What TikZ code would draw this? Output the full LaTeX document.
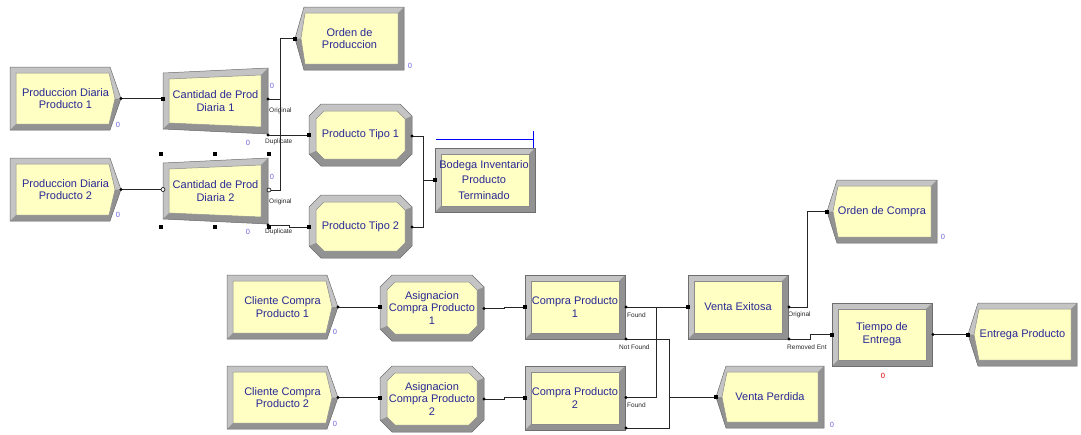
\documentclass[tikz,border=0pt]{standalone}
\usepackage{fontspec}
\setmainfont{Liberation Sans}
\definecolor{modfill}{RGB}{255,255,196}
\definecolor{bevL}{RGB}{196,196,196}
\definecolor{bevD}{RGB}{146,146,146}
\definecolor{edgec}{RGB}{110,110,110}
\definecolor{txtc}{RGB}{40,40,150}
\definecolor{cntc}{RGB}{110,100,220}
\tikzset{
 modtext/.style={font=\fontsize{11}{12.7}\selectfont, text=txtc, align=center, inner sep=0pt},
 conn/.style={draw=black!85, line width=0.9pt},
 portlbl/.style={font=\fontsize{6.5}{7}\selectfont, text=black!85, inner sep=0pt, anchor=west},
 cntlbl/.style={font=\fontsize{7.5}{8}\selectfont, text=cntc, inner sep=0pt},
 innerbox/.style={fill=modfill, draw=edgec!80, line width=0.5pt},
 outerbox/.style={draw=edgec, line width=0.5pt},
}
% rectangle module: name x1 y1 x2 y2 text
\newcommand\arRect[6]{%
 \fill[bevL] (#2,#3) rectangle (#4,#5);
 \fill[bevD] (#4,#3) -- (#4,#5) -- (#2,#5) -- (#2+6,#5-6) -- (#4-6,#5-6) -- (#4-6,#3+6) -- cycle;
 \draw[outerbox] (#2,#3) rectangle (#4,#5);
 \draw[innerbox] (#2+6,#3+6) rectangle (#4-6,#5-6);
 \node[modtext] (#1) at ({(#2+#4)/2},{(#3+#5)/2}) {#6};}
% octagon module: name x1 y1 x2 y2 text
\newcommand\arOct[6]{%
 \fill[bevL] (#2+12,#3) -- (#4-12,#3) -- (#4,#3+12) -- (#4,#5-12) -- (#4-12,#5) -- (#2+12,#5) -- (#2,#5-12) -- (#2,#3+12) -- cycle;
 \fill[bevD] (#4,#3+12) -- (#4,#5-12) -- (#4-12,#5) -- (#2+12,#5) -- (#2,#5-12) -- (#2+7,#5-15) -- (#2+15,#5-7) -- (#4-15,#5-7) -- (#4-7,#5-15) -- (#4-7,#3+15) -- cycle;
 \draw[outerbox] (#2+12,#3) -- (#4-12,#3) -- (#4,#3+12) -- (#4,#5-12) -- (#4-12,#5) -- (#2+12,#5) -- (#2,#5-12) -- (#2,#3+12) -- cycle;
 \draw[innerbox] (#2+15,#3+7) -- (#4-15,#3+7) -- (#4-7,#3+15) -- (#4-7,#5-15) -- (#4-15,#5-7) -- (#2+15,#5-7) -- (#2+7,#5-15) -- (#2+7,#3+15) -- cycle;
 \node[modtext] (#1) at ({(#2+#4)/2},{(#3+#5)/2}) {#6};}
% create module: name x1 y1 xf xp y2 text
\newcommand\arCreate[7]{%
 \fill[bevL] (#2,#3) -- (#4,#3) -- (#5,{(#3+#6)/2}) -- (#4,#6) -- (#2,#6) -- cycle;
 \fill[bevD] (#5,{(#3+#6)/2}) -- (#4,#6) -- (#2,#6) -- (#2+6,#6-6) -- (#4-1,#6-6) -- (#5-6,{(#3+#6)/2}) -- cycle;
 \draw[outerbox] (#2,#3) -- (#4,#3) -- (#5,{(#3+#6)/2}) -- (#4,#6) -- (#2,#6) -- cycle;
 \draw[innerbox] (#2+6,#3+6) -- (#4-1,#3+6) -- (#5-6,{(#3+#6)/2}) -- (#4-1,#6-6) -- (#2+6,#6-6) -- cycle;
 \node[modtext] (#1) at ({(#2+#5)/2},{(#3+#6)/2}) {#7};}
% dispose module: name xp xf y1 x2 y2 text
\newcommand\arDisp[7]{%
 \fill[bevL] (#2,{(#4+#6)/2}) -- (#3,#4) -- (#5,#4) -- (#5,#6) -- (#3,#6) -- cycle;
 \fill[bevD] (#5,#4) -- (#5,#6) -- (#3,#6) -- (#2,{(#4+#6)/2}) -- (#2+6,{(#4+#6)/2}) -- (#3+1,#6-6) -- (#5-6,#6-6) -- (#5-6,#4+6) -- cycle;
 \draw[outerbox] (#2,{(#4+#6)/2}) -- (#3,#4) -- (#5,#4) -- (#5,#6) -- (#3,#6) -- cycle;
 \draw[innerbox] (#2+6,{(#4+#6)/2}) -- (#3+1,#4+6) -- (#5-6,#4+6) -- (#5-6,#6-6) -- (#3+1,#6-6) -- cycle;
 \node[modtext] (#1) at ({(#2+#5)/2},{(#4+#6)/2}) {#7};}
% separate module: name x1 y1 x2 y2 text
\newcommand\arSep[6]{%
 \fill[bevL] (#2,#3+5) -- (#4,#3) -- (#4,#5) -- (#2,#5-5) -- cycle;
 \fill[bevD] (#4,#3) -- (#4,#5) -- (#2,#5-5) -- (#2+6,#5-11) -- (#4-7,#5-7) -- (#4-7,#3+7) -- cycle;
 \draw[outerbox] (#2,#3+5) -- (#4,#3) -- (#4,#5) -- (#2,#5-5) -- cycle;
 \draw[innerbox] (#2+6,#3+11) -- (#4-7,#3+7) -- (#4-7,#5-7) -- (#2+6,#5-11) -- cycle;
 \node[modtext] (#1) at ({(#2+#4)/2},{(#3+#5)/2}) {#6};}
\begin{document}
\begin{tikzpicture}[x=1pt,y=-1pt]
\useasboundingbox (0,0) rectangle (1081,434);
% ports
\coordinate (pd1o) at (121,98.5);  \coordinate (c1i) at (163,98.5);
\coordinate (pd2o) at (121,189.5); \coordinate (c2i) at (163,189.5);
\coordinate (c1orig) at (268,99);  \coordinate (c1dup) at (268,135);
\coordinate (c2orig) at (269,190); \coordinate (c2dup) at (268,225);
\coordinate (opi) at (295,38.5);
\coordinate (pt1i) at (309,135); \coordinate (pt1o) at (412,136);
\coordinate (pt2i) at (309,227); \coordinate (pt2o) at (412,227);
\coordinate (bi) at (435,180);
\coordinate (cc1o) at (338,307); \coordinate (a1i) at (380,307);
\coordinate (a1o) at (484,308.5); \coordinate (cp1i) at (525,307);
\coordinate (cc2o) at (338,397.5); \coordinate (a2i) at (380,397.5);
\coordinate (a2o) at (484,399); \coordinate (cp2i) at (525,397.5);
\coordinate (cp1f) at (626,307); \coordinate (cp1n) at (626,339);
\coordinate (cp2f) at (626,397.5); \coordinate (cp2n) at (626,428);
\coordinate (vei) at (688,307); \coordinate (veo) at (789,307); \coordinate (ver) at (789,339);
\coordinate (oci) at (827,211.5);
\coordinate (vpi) at (716,397);
\coordinate (tei) at (832,334.5); \coordinate (teo) at (933,334.5);
\coordinate (epi) at (968,334.5);
% connectors
\draw[conn] (pd1o) -- (c1i);
\draw[conn] (pd2o) -- (c2i);
\draw[conn] (c1orig) -- ++(12,0) |- (opi);
\draw[conn] (c2orig) -- ++(11,0) |- (opi);
\draw[conn] (c1dup) -- (pt1i);
\draw[conn] (c2dup) -- ++(21,0) -- ++(0,2) -- (pt2i);
\draw[conn] (pt1o) -- ++(11,0) |- (bi);
\draw[conn] (pt2o) -- ++(11,0) |- (bi);
\draw[conn] (cc1o) -- (a1i);
\draw[conn] (a1o) -- ++(20,0) |- (cp1i);
\draw[conn] (cc2o) -- (a2i);
\draw[conn] (a2o) -- ++(20,0) |- (cp2i);
\draw[conn] (cp1f) -- (vei);
\draw[conn] (cp2f) -- ++(30,0) |- (vei);
\draw[conn] (cp1n) -- ++(43,0) |- (vpi);
\draw[conn] (cp2n) -- ++(43,0) |- (vpi);
\draw[conn] (veo) -- ++(18,0) |- (oci);
\draw[conn] (ver) -- ++(21,0) |- (tei);
\draw[conn] (teo) -- (epi);
% port labels
\node[portlbl] (l1) at (269,111) {Original};
\node[portlbl] (l2) at (265,142) {Duplicate};
\node[portlbl] (l3) at (269,202) {Original};
\node[portlbl] (l4) at (265,232) {Duplicate};
\node[portlbl] (l5) at (627,315) {Found};
\node[portlbl] (l6) at (619,347) {Not Found};
\node[portlbl] (l7) at (627,405) {Found};
\node[portlbl] (l8) at (788,315) {Original};
\node[portlbl] (l9) at (787,347) {Removed Ent};
% modules
\arCreate{pd1}{10}{67}{110}{121}{130}{Produccion Diaria\\Producto 1}
\arCreate{pd2}{10}{158}{110}{121}{221}{Produccion Diaria\\Producto 2}
\arSep{cd1}{163}{68}{268}{134}{Cantidad de Prod\\Diaria 1}
\arSep{cd2}{163}{158}{268}{224}{Cantidad de Prod\\Diaria 2}
\arDisp{odp}{295}{304}{7}{404}{70}{Orden de\\Produccion}
\arOct{pt1}{309}{104}{412}{166}{Producto Tipo 1}
\arOct{pt2}{309}{195}{412}{258}{Producto Tipo 2}
\arRect{bod}{435}{148}{535}{212}{}
\node[modtext, font=\fontsize{11}{15.5}\selectfont] (bodt) at (484,180) {Bodega Inventario\\Producto\\Terminado};
\arCreate{cc1}{227}{275}{327}{338}{339}{Cliente Compra\\Producto 1}
\arCreate{cc2}{227}{366}{327}{338}{429}{Cliente Compra\\Producto 2}
\arOct{as1}{380}{275}{484}{341}{Asignacion\\Compra Producto\\1}
\arOct{as2}{380}{366}{484}{432}{Asignacion\\Compra Producto\\2}
\arRect{cp1}{525}{275}{625}{339}{Compra Producto\\1}
\arRect{cp2}{525}{366}{625}{430}{Compra Producto\\2}
\arRect{ve}{688}{275}{788}{339}{Venta Exitosa}
\arDisp{oc}{827}{837}{180}{937}{243}{Orden de Compra}
\arRect{te}{832}{303}{932}{366}{Tiempo de\\Entrega}
\arDisp{ep}{968}{978}{303}{1077}{366}{Entrega Producto}
\arDisp{vp}{716}{726}{366}{824}{428}{Venta Perdida}
% port markers
\foreach \p in {pd1o,pd2o,c1orig,c1dup,c2dup,pt1o,pt2o,cc1o,a1o,cc2o,a2o,cp1f,cp1n,cp2f,cp2n,veo,ver,teo}
  \fill[black] (\p) circle (1.6);
\foreach \p in {c1i,opi,pt1i,pt2i,bi,a1i,cp1i,a2i,cp2i,vei,oci,vpi,tei,epi}
  \fill[black] (\p) ++(-2,-2) rectangle ++(4,4);
\filldraw[fill=white, draw=black, line width=0.6pt] (c2i) circle (2);
\filldraw[fill=white, draw=black, line width=0.6pt] (c2orig) circle (2);
% selection handles
\foreach \hx in {161,215,269} \foreach \hy in {154,227}
  \fill[black] (\hx-2,\hy-2) rectangle ++(4,4);
% blue line
\draw[blue, line width=0.9pt] (436,139) -- (533,139) (533,131) -- (533,148);
% counters
\node[cntlbl] (k1) at (118,125) {0};
\node[cntlbl] (k2) at (118,215) {0};
\node[cntlbl] (k3) at (272,86) {0};
\node[cntlbl] (k4) at (248,143) {0};
\node[cntlbl] (k5) at (272,177) {0};
\node[cntlbl] (k6) at (248,232) {0};
\node[cntlbl] (k7) at (410,66) {0};
\node[cntlbl] (k8) at (335,332) {0};
\node[cntlbl] (k9) at (335,424) {0};
\node[cntlbl] (k10) at (943,237) {0};
\node[cntlbl, text=red!85!black] (k11) at (883,376) {0};
\node[cntlbl] (k12) at (832,425) {0};
\end{tikzpicture}
\end{document}
